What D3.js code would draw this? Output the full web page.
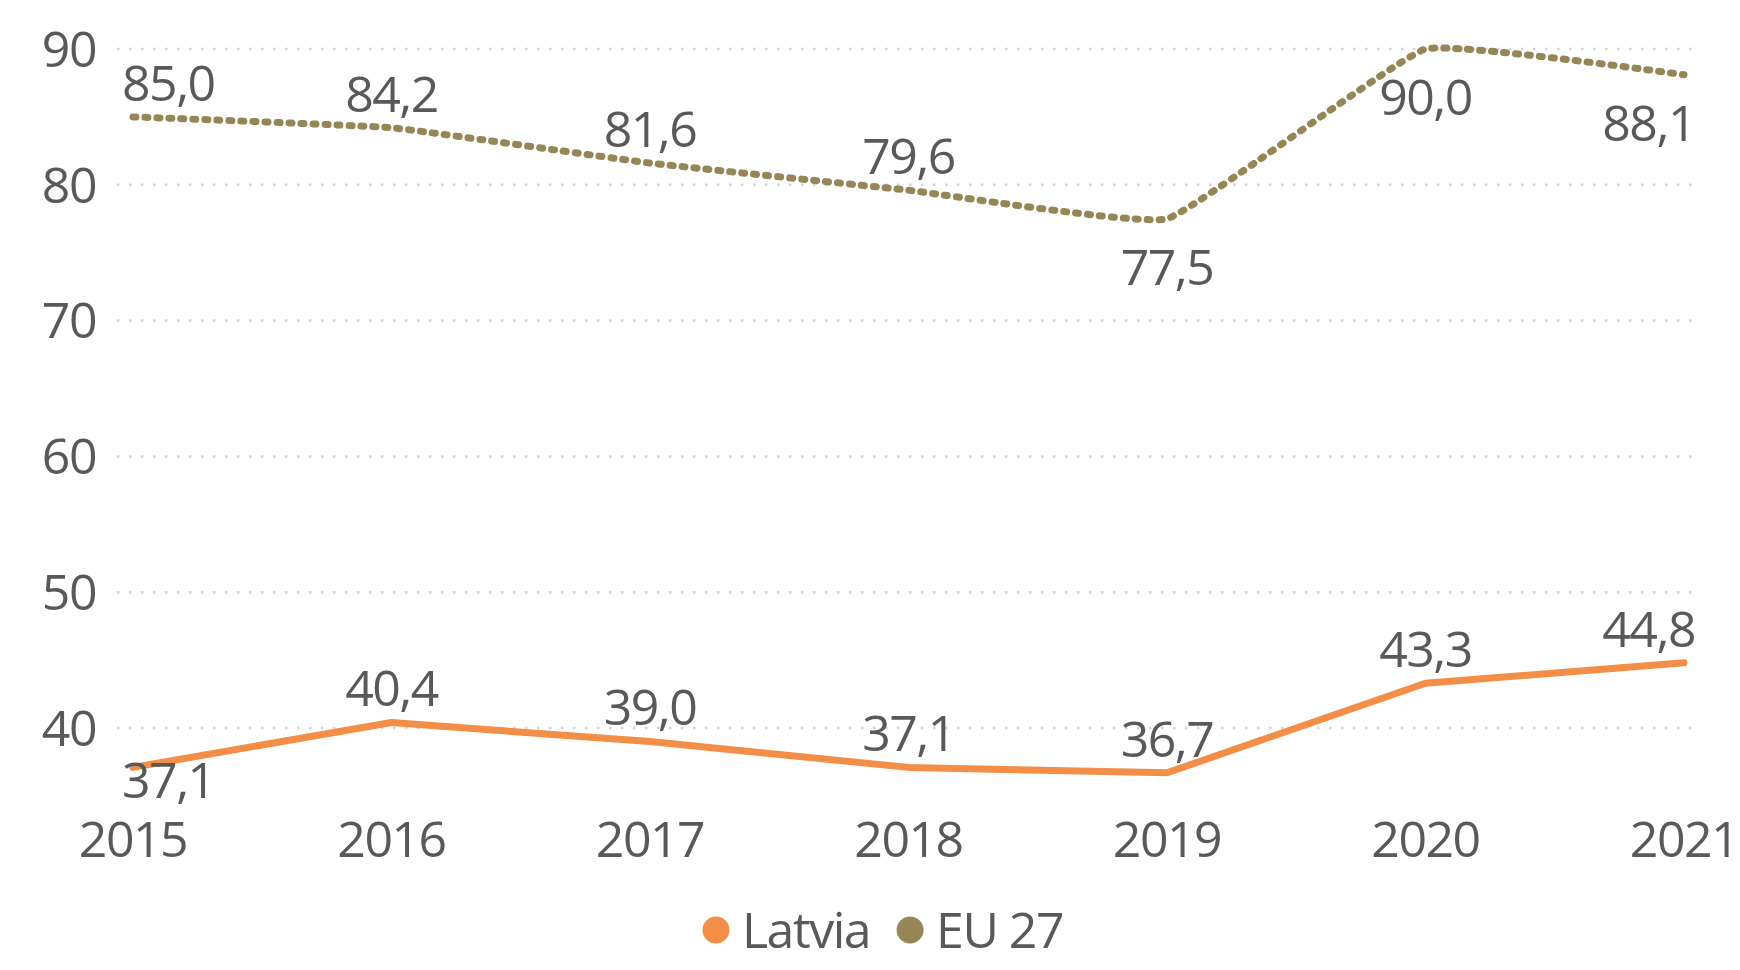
<!DOCTYPE html>
<html>
<head>
<meta charset="utf-8">
<script src="https://cdn.jsdelivr.net/npm/d3@7"></script>
<style>
  html, body { margin: 0; padding: 0; background: #fff; }
  svg text { font-family: "Segoe UI", "Open Sans", sans-serif; fill: #595959; letter-spacing: -1.5px; }
</style>
</head>
<body>
<svg id="chart"></svg>
<script>
// data
var years = ["2015", "2016", "2017", "2018", "2019", "2020", "2021"];
var latvia = [37.1, 40.4, 39.0, 37.1, 36.7, 43.3, 44.8];
var eu27 = [85.0, 84.2, 81.6, 79.6, 77.5, 90.0, 88.1];
var yTicks = [40, 50, 60, 70, 80, 90];
var seriesNames = ["Latvia", "EU 27"];

// where each data label sits relative to its point
var latviaSide = ["below", "above", "above", "above", "above", "above", "above"];
var euSide = ["above", "above", "above", "above", "below", "below", "below"];

var width = 1740, height = 970;
var fontSize = 50;
var orange = "#f28e48", olive = "#968657";
var plotLeft = 117, plotRight = 1700, plotBottom = 800;

var svg = d3.select("#chart")
    .attr("width", width)
    .attr("height", height);

var x = d3.scalePoint()
    .domain(years)
    .range([133, 1684]);

var y = d3.scaleLinear()
    .domain([40, 90])
    .range([728, 49]);

// gridlines
svg.append("g")
    .attr("class", "grid")
  .selectAll("line")
    .data(yTicks)
  .enter().append("line")
    .attr("x1", plotLeft)
    .attr("x2", plotRight)
    .attr("y1", function(d) { return y(d); })
    .attr("y2", function(d) { return y(d); })
    .style("stroke", "#d3d3d3")
    .style("stroke-width", 2.5)
    .style("stroke-dasharray", "2.5,9.5");

// y axis labels
svg.append("g")
  .selectAll("text")
    .data(yTicks)
  .enter().append("text")
    .attr("x", 96)
    .attr("y", function(d) { return y(d) + fontSize * 0.357; })
    .attr("text-anchor", "end")
    .style("font-size", fontSize + "px")
    .text(function(d) { return d; });

// x axis labels
svg.append("g")
  .selectAll("text")
    .data(years)
  .enter().append("text")
    .attr("x", function(d) { return x(d); })
    .attr("y", 857)
    .attr("text-anchor", "middle")
    .style("font-size", fontSize + "px")
    .text(function(d) { return d; });

function drawSeries(values, color, curve, dashed) {
  var line = d3.line()
      .x(function(d, i) { return x(years[i]); })
      .y(function(d) { return y(d); })
      .curve(curve);

  svg.append("path")
      .datum(values)
      .attr("d", line)
      .style("fill", "none")
      .style("stroke", color)
      .style("stroke-width", 7)
      .style("stroke-linecap", "round")
      .style("stroke-linejoin", "round")
      .style("stroke-dasharray", dashed ? "3,9" : null);
}

// EU line is lightly smoothed like the original
drawSeries(eu27, olive, d3.curveCardinal.tension(0.7), true);
drawSeries(latvia, orange, d3.curveLinear, false);

var fmt = function(v) { return v.toFixed(1).replace(".", ","); };

function drawLabels(values, sides) {
  var g = svg.append("g");
  values.forEach(function(v, i) {
    var cy = y(v) + (sides[i] === "above" ? -34 : 48);
    cy = Math.min(cy, plotBottom - 20);
    var t = g.append("text")
        .attr("x", x(years[i]))
        .attr("y", cy + fontSize * 0.357)
        .attr("text-anchor", "middle")
        .style("font-size", fontSize + "px")
        .text(fmt(v));
    // keep label inside the plot area
    var b = t.node().getBBox();
    var shift = 0;
    if (b.x < plotLeft + 5) shift = plotLeft + 5 - b.x;
    if (b.x + b.width > plotRight - 5) shift = plotRight - 5 - (b.x + b.width);
    if (shift) t.attr("x", x(years[i]) + shift);
  });
}

drawLabels(eu27, euSide);
drawLabels(latvia, latviaSide);

// legend
var legend = svg.append("g").attr("class", "legend");
var lx = 716;
[[seriesNames[0], orange], [seriesNames[1], olive]].forEach(function(d) {
  legend.append("circle")
      .attr("cx", lx)
      .attr("cy", 930)
      .attr("r", 13.5)
      .style("fill", d[1]);
  var t = legend.append("text")
      .attr("x", lx + 26)
      .attr("y", 930 + fontSize * 0.357)
      .style("font-size", fontSize + "px")
      .text(d[0]);
  lx = lx + 26 + t.node().getComputedTextLength() + 40;
});
</script>
</body>
</html>
